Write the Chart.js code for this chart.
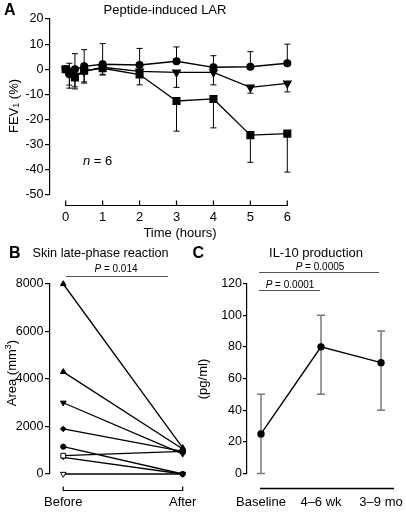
<!DOCTYPE html>
<html><head><meta charset="utf-8">
<script src="https://cdn.jsdelivr.net/npm/chart.js@4.4.1/dist/chart.umd.min.js"></script>
<style>
html,body{margin:0;padding:0;background:#fff;width:406px;height:517px;overflow:hidden}
canvas{position:absolute;left:0;top:0}
</style></head><body>
<canvas id="ca" width="406" height="517"></canvas>
<canvas id="cb" width="406" height="517"></canvas>
<canvas id="cc" width="406" height="517"></canvas>
<script>
// ---------- Panel A: Peptide-induced LAR (FEV1 %) ----------
const timeHours     = [0, 0.1, 0.25, 0.5, 1, 2, 3, 4, 5, 6];
const circleFEV     = [0, -2, 0, 1.2, 2, 1.7, 3.2, 0.8, 1, 2.4];
const circleUpper   = [null, 2.4, 6.2, 7.8, 10.2, 8.3, 8.9, 5.4, 7, 10];
const triangleFEV   = [0, -1.5, -2.5, -0.8, 0.8, -0.8, -1.2, -1.2, -7.2, -5.6];
const triangleLower = [null, -6.3, -7, -5, -2, -2.5, -7.2, -6.2, -9.5, -9];
const squareFEV     = [0, -1, -3.2, -0.6, 0.4, -2.1, -12.6, -11.8, -26.2, -25.6];
const squareLower   = [null, -7.5, -7.8, -5.5, -2.3, -6.2, -24.6, -23.3, -37, -40.9];
const timeTicks     = [0, 1, 2, 3, 4, 5, 6];
const fevTicks      = [20, 10, 0, -10, -20, -30, -40, -50];

// ---------- Panel B: Skin late-phase reaction (Area mm3) ----------
const skinGroups = ['Before', 'After'];
const skinBefore = [8000, 4300, 3000, 1900, 1150, 770, 700, 0];
const skinAfter  = [1100, 1050, 850, 950, 0, 950, 0, 0];
const areaTicks  = [0, 2000, 4000, 6000, 8000];

// ---------- Panel C: IL-10 production (pg/ml) ----------
const il10Groups = ['Baseline', '4–6 wk', '3–9 mo'];
const il10Mean   = [25, 80, 70];
const il10Low    = [0, 50, 40];
const il10High   = [50, 100, 90];
const il10Ticks  = [0, 20, 40, 60, 80, 100, 120];

const FAM = "'Liberation Sans', Arial, Helvetica, sans-serif";
Chart.defaults.font.family = FAM;
Chart.defaults.color = '#000';

function drawRuns(ctx, runs, x, y, rot, align) {
  ctx.save();
  ctx.translate(x, y);
  if (rot) ctx.rotate(rot);
  let total = 0;
  runs.forEach(r => { ctx.font = r.font; r.w = ctx.measureText(r.t).width; total += r.w; });
  let cx = align === 'left' ? 0 : -total / 2;
  ctx.textBaseline = 'middle'; ctx.textAlign = 'left'; ctx.fillStyle = '#000';
  runs.forEach(r => { ctx.font = r.font; ctx.fillText(r.t, cx, r.dy || 0); cx += r.w; });
  ctx.restore();
}
function hline(ctx, x1, x2, y, color, w) {
  ctx.save(); ctx.strokeStyle = color; ctx.lineWidth = w;
  ctx.beginPath(); ctx.moveTo(x1, y); ctx.lineTo(x2, y); ctx.stroke(); ctx.restore();
}
function detachedAxis(chart, y, values, tickLen) {
  const ctx = chart.ctx, xs = chart.scales.x;
  const x1 = xs.getPixelForValue(values[0]), x2 = xs.getPixelForValue(values[values.length - 1]);
  ctx.save(); ctx.strokeStyle = '#000'; ctx.lineWidth = 1.2;
  ctx.beginPath(); ctx.moveTo(x1 - 0.6, y); ctx.lineTo(x2 + 0.6, y);
  if (tickLen) values.forEach(v => { const px = xs.getPixelForValue(v); ctx.moveTo(px, y); ctx.lineTo(px, y - tickLen); });
  ctx.stroke(); ctx.restore();
}

const errorBars = {
  id: 'errorBars',
  beforeDatasetsDraw(chart) {
    const ctx = chart.ctx, xs = chart.scales.x, ys = chart.scales.y;
    chart.data.datasets.forEach(ds => {
      if (!ds.errEnds) return;
      ctx.save();
      ctx.strokeStyle = ds.errColor || '#000';
      ctx.lineWidth = ds.errWidth || 1;
      const cap = ds.errCap || 3;
      ds.data.forEach((p, j) => {
        const ends = ds.errEnds[j];
        if (!ends) return;
        const px = xs.getPixelForValue(p.x), py = ys.getPixelForValue(p.y);
        ends.forEach(e => {
          if (e == null) return;
          const ey = ys.getPixelForValue(e);
          ctx.beginPath();
          ctx.moveTo(px, py); ctx.lineTo(px, ey);
          ctx.moveTo(px - cap, ey); ctx.lineTo(px + cap, ey);
          ctx.stroke();
        });
      });
      ctx.restore();
    });
  }
};

const pts = (xs, ys) => xs.map((x, i) => ({ x, y: ys[i] }));
const baseOpts = {
  responsive: false, animation: false, devicePixelRatio: 1,
  plugins: { legend: { display: false }, tooltip: { enabled: false } },
  events: []
};
const yAxisCommon = (tickLen, pad, tickVals) => ({
  grid: { display: true, drawOnChartArea: false, drawTicks: true, tickLength: tickLen, color: '#000', lineWidth: 1.2 },
  border: { display: true, color: '#000', width: 1.2 },
  ticks: { padding: pad, font: { size: 12.5 }, color: '#000', autoSkip: false, callback: v => String(v) },
  afterBuildTicks: s => { s.ticks = tickVals.map(v => ({ value: v })); },
  afterFit: s => { s.width = 50; s.paddingTop = 0; s.paddingBottom = 0; }
});
const xAxisCommon = (pad, h, tickVals, labels) => ({
  type: 'linear',
  grid: { display: false, drawTicks: false },
  border: { display: false },
  ticks: { padding: pad, font: { size: 13 }, color: '#000', autoSkip: false, maxRotation: 0, minRotation: 0,
    callback: labels ? (v => labels[v]) : (v => String(v)) },
  afterBuildTicks: s => { s.ticks = tickVals.map(v => ({ value: v })); },
  afterFit: s => { s.height = h; s.paddingLeft = 0; s.paddingRight = 0; }
});

// ---------------- Chart A ----------------
const lineA = { borderColor: '#000', borderWidth: 1.3, pointBackgroundColor: '#000', pointBorderColor: '#000', tension: 0, clip: false };
new Chart(document.getElementById('ca'), {
  type: 'line',
  data: { datasets: [
    Object.assign({ data: pts(timeHours, circleFEV), pointStyle: 'circle', pointRadius: 3.4,
      errEnds: timeHours.map((_, i) => [circleUpper[i]]) }, lineA),
    Object.assign({ data: pts(timeHours, triangleFEV), pointStyle: 'triangle', rotation: 180, pointRadius: 4.3,
      errEnds: timeHours.map((_, i) => [triangleLower[i]]) }, lineA),
    Object.assign({ data: pts(timeHours, squareFEV), pointStyle: 'rect', pointRadius: 4.8,
      errEnds: timeHours.map((_, i) => [squareLower[i]]) }, lineA)
  ] },
  options: Object.assign({}, baseOpts, {
    layout: { padding: { left: 0, right: 115, top: 19, bottom: 277 } },
    scales: {
      x: Object.assign(xAxisCommon(15, 45, timeTicks), { min: -0.425, max: 6.1 }),
      y: Object.assign(yAxisCommon(5, 1.5, fevTicks), { min: -50, max: 20 })
    }
  }),
  plugins: [errorBars, {
    id: 'decoA',
    afterDraw(chart) {
      const ctx = chart.ctx;
      detachedAxis(chart, 205.5, timeTicks, 5);
      drawRuns(ctx, [{ t: 'A', font: `bold 16px ${FAM}` }], 4, 11, 0, 'left');
      drawRuns(ctx, [{ t: 'Peptide-induced LAR', font: `13px ${FAM}` }], 165, 10);
      drawRuns(ctx, [{ t: 'Time (hours)', font: `13px ${FAM}` }], 180, 233);
      drawRuns(ctx, [{ t: 'n', font: `italic 13px ${FAM}` }, { t: ' = 6', font: `13px ${FAM}` }], 83, 161, 0, 'left');
      drawRuns(ctx, [{ t: 'FEV', font: `13px ${FAM}` }, { t: '1', font: `9px ${FAM}`, dy: 3 }, { t: ' (%)', font: `13px ${FAM}` }], 14, 106, -Math.PI / 2);
    }
  }]
});

// ---------------- Chart B ----------------
const bStyles = [
  { s: 'triangle', r: 3.3, rot: 0, fill: '#000' },
  { s: 'triangle', r: 3.3, rot: 0, fill: '#000' },
  { s: 'triangle', r: 3.3, rot: 180, fill: '#000' },
  { s: 'rectRot', r: 2.8, rot: 0, fill: '#000' },
  { s: 'circle', r: 2.6, rot: 0, fill: '#000' },
  { s: 'rect', r: 3.4, rot: 0, fill: '#fff' },
  { s: 'rectRot', r: 2.2, rot: 0, fill: '#000' },
  { s: 'triangle', r: 3.3, rot: 180, fill: '#fff' }
];
new Chart(document.getElementById('cb'), {
  type: 'line',
  data: { datasets: skinBefore.map((v, i) => ({
    data: [{ x: 0, y: v }, { x: 1, y: skinAfter[i] }],
    borderColor: '#000', borderWidth: 1.3, tension: 0, clip: false,
    pointStyle: bStyles[i].s, pointRadius: bStyles[i].r, rotation: bStyles[i].rot,
    pointBackgroundColor: bStyles[i].fill, pointBorderColor: '#000', pointBorderWidth: 1
  })) },
  options: Object.assign({}, baseOpts, {
    layout: { padding: { left: 0, right: 211, top: 284, bottom: 0 } },
    scales: {
      x: Object.assign(xAxisCommon(21, 43, [0, 1], skinGroups), { min: -0.111, max: 1.103 }),
      y: Object.assign(yAxisCommon(5, 1.5, areaTicks), { min: 0, max: 8000 })
    }
  }),
  plugins: [{
    id: 'decoB',
    afterDraw(chart) {
      const ctx = chart.ctx;
      detachedAxis(chart, 490.5, [0, 1], 4);
      drawRuns(ctx, [{ t: 'B', font: `bold 16px ${FAM}` }], 9, 254, 0, 'left');
      drawRuns(ctx, [{ t: 'Skin late-phase reaction', font: `12.7px ${FAM}` }], 32.5, 253, 0, 'left');
      drawRuns(ctx, [{ t: 'P', font: `italic 10px ${FAM}` }, { t: ' = 0.014', font: `10px ${FAM}` }], 116, 269);
      hline(ctx, 66, 168, 276.5, '#555', 1);
      drawRuns(ctx, [{ t: 'Area (mm', font: `13px ${FAM}` }, { t: '3', font: `9px ${FAM}`, dy: -4 }, { t: ')', font: `13px ${FAM}` }], 12.5, 373, -Math.PI / 2);
    }
  }]
});

// ---------------- Chart C ----------------
new Chart(document.getElementById('cc'), {
  type: 'line',
  data: { datasets: [{
    data: pts(il10Groups.map((_, i) => i), il10Mean),
    borderColor: '#000', borderWidth: 1.4, tension: 0, clip: false,
    pointStyle: 'circle', pointRadius: 3, pointBackgroundColor: '#000', pointBorderColor: '#000',
    errEnds: il10Mean.map((_, i) => [il10Low[i], il10High[i]]),
    errColor: '#7a7a7a', errWidth: 1.5, errCap: 4
  }] },
  options: Object.assign({}, baseOpts, {
    layout: { padding: { left: 197, right: 6, top: 283.5, bottom: 0 } },
    scales: {
      x: Object.assign(xAxisCommon(21.5, 43.5, [0, 1, 2], il10Groups), { min: -0.233, max: 2.316 }),
      y: Object.assign(yAxisCommon(4, 1, il10Ticks), { min: 0, max: 120 })
    }
  }),
  plugins: [errorBars, {
    id: 'decoC',
    afterDraw(chart) {
      const ctx = chart.ctx;
      hline(ctx, 260, 394, 488.5, '#000', 1.3);
      drawRuns(ctx, [{ t: 'C', font: `bold 16px ${FAM}` }], 192.5, 254, 0, 'left');
      drawRuns(ctx, [{ t: 'IL-10 production', font: `13px ${FAM}` }], 316, 253);
      drawRuns(ctx, [{ t: 'P', font: `italic 10px ${FAM}` }, { t: ' = 0.0005', font: `10px ${FAM}` }], 320, 267.5);
      hline(ctx, 259, 379, 272.5, '#555', 1);
      drawRuns(ctx, [{ t: 'P', font: `italic 10px ${FAM}` }, { t: ' = 0.0001', font: `10px ${FAM}` }], 290, 285);
      hline(ctx, 259, 320, 290.5, '#555', 1);
      drawRuns(ctx, [{ t: '(pg/ml)', font: `13px ${FAM}` }], 203, 379, -Math.PI / 2);
    }
  }]
});
</script>
</body></html>
